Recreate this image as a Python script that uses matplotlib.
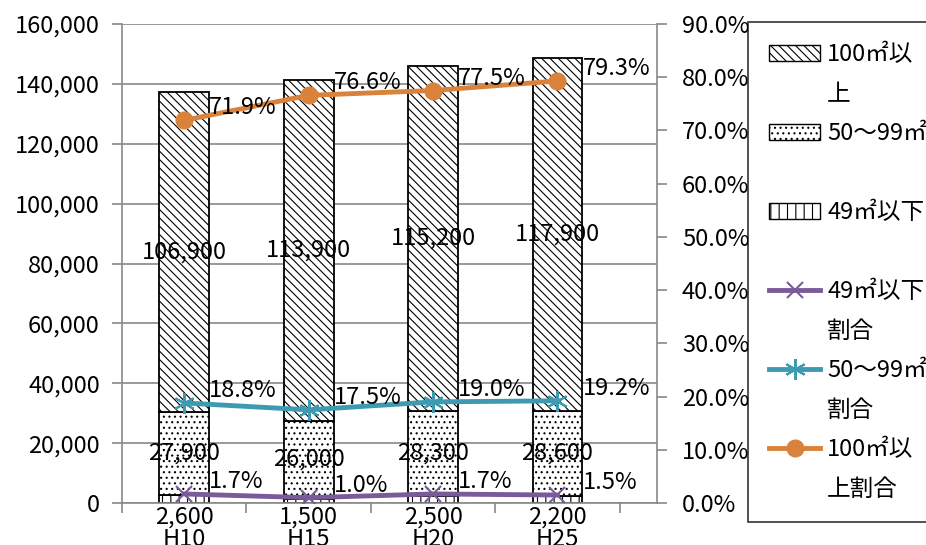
import numpy as np
import matplotlib.pyplot as plt
import matplotlib.patches as mpatches
from matplotlib.lines import Line2D
from matplotlib.ticker import FuncFormatter, FixedLocator

plt.rcParams['font.family'] = ['Noto Sans CJK JP', 'DejaVu Sans']
plt.rcParams['hatch.linewidth'] = 0.8

years = ['H10', 'H15', 'H20', 'H25']
small = [2600, 1500, 2500, 2200]            # 49㎡以下
medium = [27900, 26000, 28300, 28600]       # 50〜99㎡
large = [106900, 113900, 115200, 117900]    # 100㎡以上
small_pct = [1.7, 1.0, 1.7, 1.5]
medium_pct = [18.8, 17.5, 19.0, 19.2]
large_pct = [71.9, 76.6, 77.5, 79.3]

GRAY = '#898989'
PURPLE = '#7a5b99'
TEAL = '#3e9ab0'
ORANGE = '#d9823b'
FS = 17
H_LARGE = '\\\\\\\\'
H_MED = '...'
H_SMALL = '||'

fig = plt.figure(figsize=(9.26, 5.45), dpi=100)
ax = fig.add_axes([122 / 926, 1 - 503 / 545, (657 - 122) / 926, (503 - 24) / 545])

x = np.arange(len(years))
w = 0.4
bottom2 = np.array(small)
bottom3 = bottom2 + np.array(medium)
ax.bar(x, small, w, color='white', edgecolor='black', hatch=H_SMALL, lw=1.3, zorder=2)
ax.bar(x, medium, w, bottom=bottom2, color='white', edgecolor='black', hatch=H_MED, lw=1.3, zorder=2)
ax.bar(x, large, w, bottom=bottom3, color='white', edgecolor='black', hatch=H_LARGE, lw=1.3, zorder=2)

# value labels in bars
for i in range(len(years)):
    ax.annotate('{:,}'.format(small[i]), xy=(x[i], 0), xytext=(0, -2), textcoords='offset points',
                ha='center', va='top', fontsize=FS, zorder=5)
    ax.text(x[i], bottom2[i] + medium[i] / 2, '{:,}'.format(medium[i]), ha='center', va='center',
            fontsize=FS, zorder=5)
    ax.text(x[i], bottom3[i] + large[i] / 2, '{:,}'.format(large[i]), ha='center', va='center',
            fontsize=FS, zorder=5)

ax.set_xlim(-0.5, 3.8)
ax.set_ylim(0, 160000)
ax.set_yticks(np.arange(0, 160001, 20000))
ax.yaxis.set_major_formatter(FuncFormatter(lambda v, p: '{:,}'.format(int(v))))
ax.grid(axis='y', color=GRAY, lw=1.2)
ax.set_axisbelow(True)
ax.set_xticks(x)
ax.set_xticklabels(years)
ax.xaxis.set_minor_locator(FixedLocator([-0.5, 0.5, 1.5, 2.5, 3.5]))
ax.tick_params(axis='x', which='major', length=0, pad=18, labelsize=FS)
ax.tick_params(axis='x', which='minor', length=7, color=GRAY, width=1.2, direction='out')
ax.tick_params(axis='y', length=7, color=GRAY, width=1.2, pad=9, labelsize=FS)
for s in ['top', 'right']:
    ax.spines[s].set_visible(False)
for s in ['left', 'bottom']:
    ax.spines[s].set_color(GRAY)
    ax.spines[s].set_linewidth(1.2)

ax2 = ax.twinx()
ax2.set_ylim(0, 90)
ax2.set_yticks(np.arange(0, 91, 10))
ax2.yaxis.set_major_formatter(FuncFormatter(lambda v, p: '%.1f%%' % v))
ax2.tick_params(axis='y', length=7, color=GRAY, width=1.2, pad=11, labelsize=FS)
for s in ['top', 'left', 'bottom']:
    ax2.spines[s].set_visible(False)
ax2.spines['right'].set_color(GRAY)
ax2.spines['right'].set_linewidth(1.2)

ax2.plot(x, small_pct, color=PURPLE, lw=3.5, marker='x', ms=12, mew=1.5, zorder=3)
ax2.plot(x, medium_pct, color=TEAL, lw=3.5, marker=(6, 2, 0), ms=15, mew=1.5, zorder=3)
ax2.plot(x, large_pct, color=ORANGE, lw=3.5, marker='o', ms=12, zorder=3)
for pct in [small_pct, medium_pct, large_pct]:
    for i, v in enumerate(pct):
        ax2.annotate('%.1f%%' % v, xy=(x[i], v), xytext=(18, 9), textcoords='offset points',
                     ha='left', va='center', fontsize=FS, zorder=6)

# legend: one row per text line, blank handles for second lines
blank = mpatches.Rectangle((0, 0), 1, 1, visible=False)
handles = [
    mpatches.Patch(facecolor='white', edgecolor='black', hatch=H_LARGE), blank,
    mpatches.Patch(facecolor='white', edgecolor='black', hatch=H_MED), blank,
    mpatches.Patch(facecolor='white', edgecolor='black', hatch=H_SMALL), blank,
    Line2D([], [], color=PURPLE, lw=3.5, marker='x', ms=12, mew=1.5), blank,
    Line2D([], [], color=TEAL, lw=3.5, marker=(6, 2, 0), ms=15, mew=1.5), blank,
    Line2D([], [], color=ORANGE, lw=3.5, marker='o', ms=12), blank,
]
labels = ['100㎡以', '上', '50〜99㎡', '', '49㎡以下', '',
          '49㎡以下', '割合', '50〜99㎡', '割合', '100㎡以', '上割合']
leg = fig.legend(handles, labels, loc='upper left', bbox_to_anchor=(748 / 926, 1 - 22 / 545),
                 borderaxespad=0, fontsize=FS, handlelength=2.15, handletextpad=0.3,
                 labelspacing=0.7, borderpad=0.9, fancybox=False, edgecolor='black')
leg.get_frame().set_linewidth(1.2)

fig.savefig('out.png', dpi=100)
